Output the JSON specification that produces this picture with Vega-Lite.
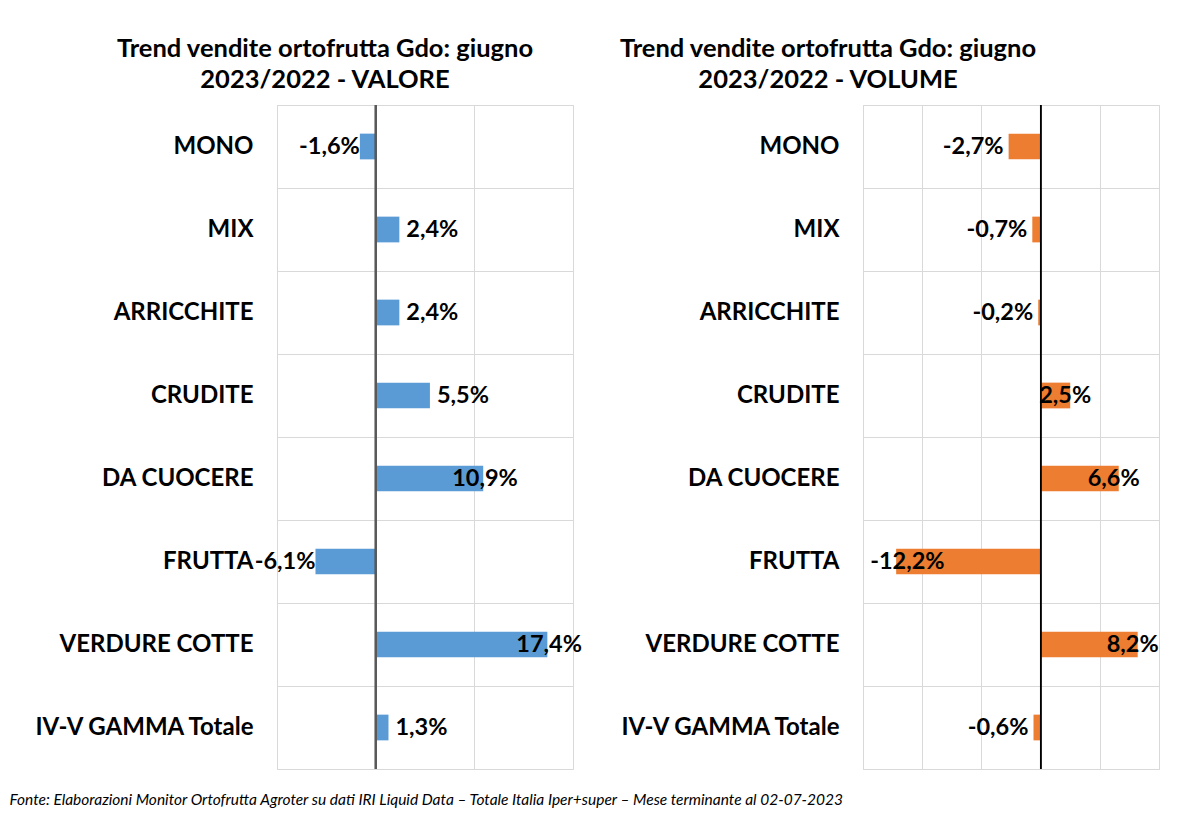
{
  "$schema": "https://vega.github.io/schema/vega-lite/v6.json",
  "background": "white",
  "padding": {"left": 9, "top": 36, "right": 10, "bottom": 10},
  "bounds": "flush",
  "spacing": 290,
  "title": {
    "text": "Fonte: Elaborazioni Monitor Ortofrutta Agroter su dati IRI Liquid Data – Totale Italia Iper+super – Mese terminante al 02-07-2023",
    "orient": "bottom",
    "anchor": "start",
    "frame": "bounds",
    "font": "Lato",
    "fontStyle": "italic",
    "fontWeight": "normal",
    "fontSize": 15.5,
    "color": "#000000",
    "offset": 23,
    "dx": -17
  },
  "hconcat": [
    {
      "width": 296,
      "height": 664,
      "title": {
        "text": ["Trend vendite ortofrutta Gdo: giugno", "2023/2022 - VALORE"],
        "anchor": "middle",
        "frame": "group",
        "dx": -100,
        "offset": 11
      },
      "data": {
        "values": [
          {"category": "MONO", "value": -1.6, "label": "-1,6%"},
          {"category": "MIX", "value": 2.4, "label": "2,4%"},
          {"category": "ARRICCHITE", "value": 2.4, "label": "2,4%"},
          {"category": "CRUDITE", "value": 5.5, "label": "5,5%"},
          {"category": "DA CUOCERE", "value": 10.9, "label": "10,9%"},
          {"category": "FRUTTA", "value": -6.1, "label": "-6,1%"},
          {"category": "VERDURE COTTE", "value": 17.4, "label": "17,4%"},
          {"category": "IV-V GAMMA Totale", "value": 1.3, "label": "1,3%"}
        ]
      },
      "encoding": {
        "y": {
          "field": "category",
          "type": "nominal",
          "sort": null,
          "scale": {"paddingInner": 0, "paddingOuter": 0},
          "axis": {
            "title": null,
            "ticks": false,
            "domain": false,
            "grid": true,
            "bandPosition": 0,
            "labelPadding": 24,
            "minExtent": 250,
            "maxExtent": 250
          }
        },
        "x": {
          "field": "value",
          "type": "quantitative",
          "scale": {"domain": [-10, 20], "nice": false, "zero": false},
          "axis": {"values": [-10, 0, 10, 20], "grid": true, "labels": false, "ticks": false, "domain": false, "title": null}
        }
      },
      "layer": [
        {"mark": {"type": "bar", "color": "#5b9bd5", "height": {"band": 0.31}}},
        {"mark": {"type": "rule", "color": "#595959", "strokeWidth": 1.5}, "encoding": {"x": {"datum": 0}, "y": null}},
        {
          "transform": [{"filter": "datum.value >= 0 && datum.value < 10"}],
          "mark": {"type": "text", "align": "left", "dx": 7, "font": "Lato", "fontWeight": "bold", "fontSize": 23.5, "color": "#000000"},
          "encoding": {"text": {"field": "label"}}
        },
        {
          "transform": [{"filter": "datum.value >= 10"}],
          "mark": {"type": "text", "align": "left", "dx": -31, "font": "Lato", "fontWeight": "bold", "fontSize": 23.5, "color": "#000000"},
          "encoding": {"text": {"field": "label"}}
        },
        {
          "transform": [{"filter": "datum.value < 0"}],
          "mark": {"type": "text", "align": "right", "dx": 0, "font": "Lato", "fontWeight": "bold", "fontSize": 23.5, "color": "#000000"},
          "encoding": {"text": {"field": "label"}}
        }
      ]
    },
    {
      "width": 296,
      "height": 664,
      "title": {
        "text": ["Trend vendite ortofrutta Gdo: giugno", "2023/2022 - VOLUME"],
        "anchor": "middle",
        "frame": "group",
        "dx": -183,
        "offset": 11
      },
      "data": {
        "values": [
          {"category": "MONO", "value": -2.7, "label": "-2,7%"},
          {"category": "MIX", "value": -0.7, "label": "-0,7%"},
          {"category": "ARRICCHITE", "value": -0.2, "label": "-0,2%"},
          {"category": "CRUDITE", "value": 2.5, "label": "2,5%"},
          {"category": "DA CUOCERE", "value": 6.6, "label": "6,6%"},
          {"category": "FRUTTA", "value": -12.2, "label": "-12,2%"},
          {"category": "VERDURE COTTE", "value": 8.2, "label": "8,2%"},
          {"category": "IV-V GAMMA Totale", "value": -0.6, "label": "-0,6%"}
        ]
      },
      "encoding": {
        "y": {
          "field": "category",
          "type": "nominal",
          "sort": null,
          "scale": {"paddingInner": 0, "paddingOuter": 0},
          "axis": {
            "title": null,
            "ticks": false,
            "domain": false,
            "grid": true,
            "bandPosition": 0,
            "labelPadding": 24,
            "minExtent": 250,
            "maxExtent": 250
          }
        },
        "x": {
          "field": "value",
          "type": "quantitative",
          "scale": {"domain": [-15, 10], "nice": false, "zero": false},
          "axis": {"values": [-15, -10, -5, 0, 5, 10], "grid": true, "labels": false, "ticks": false, "domain": false, "title": null}
        }
      },
      "layer": [
        {"mark": {"type": "bar", "color": "#ed7d31", "height": {"band": 0.31}}},
        {"mark": {"type": "rule", "color": "#000000", "strokeWidth": 1.2}, "encoding": {"x": {"datum": 0}, "y": null}},
        {
          "transform": [{"filter": "datum.value >= 0"}],
          "mark": {"type": "text", "align": "center", "dx": -5, "font": "Lato", "fontWeight": "bold", "fontSize": 23.5, "color": "#000000"},
          "encoding": {"text": {"field": "label"}}
        },
        {
          "transform": [{"filter": "datum.value < 0 && datum.value > -10"}],
          "mark": {"type": "text", "align": "right", "dx": -5, "font": "Lato", "fontWeight": "bold", "fontSize": 23.5, "color": "#000000"},
          "encoding": {"text": {"field": "label"}}
        },
        {
          "transform": [{"filter": "datum.value <= -10"}],
          "mark": {"type": "text", "align": "left", "dx": -26, "font": "Lato", "fontWeight": "bold", "fontSize": 23.5, "color": "#000000"},
          "encoding": {"text": {"field": "label"}}
        }
      ]
    }
  ],
  "config": {
    "view": {"stroke": "#d9d9d9", "strokeWidth": 1},
    "axis": {
      "gridColor": "#d9d9d9",
      "gridWidth": 1,
      "labelFont": "Lato",
      "labelFontWeight": "bold",
      "labelFontSize": 24,
      "labelColor": "#000000",
      "labelLimit": 300
    },
    "title": {
      "font": "Lato",
      "fontWeight": "bold",
      "fontSize": 25.5,
      "lineHeight": 31,
      "color": "#000000"
    }
  }
}
